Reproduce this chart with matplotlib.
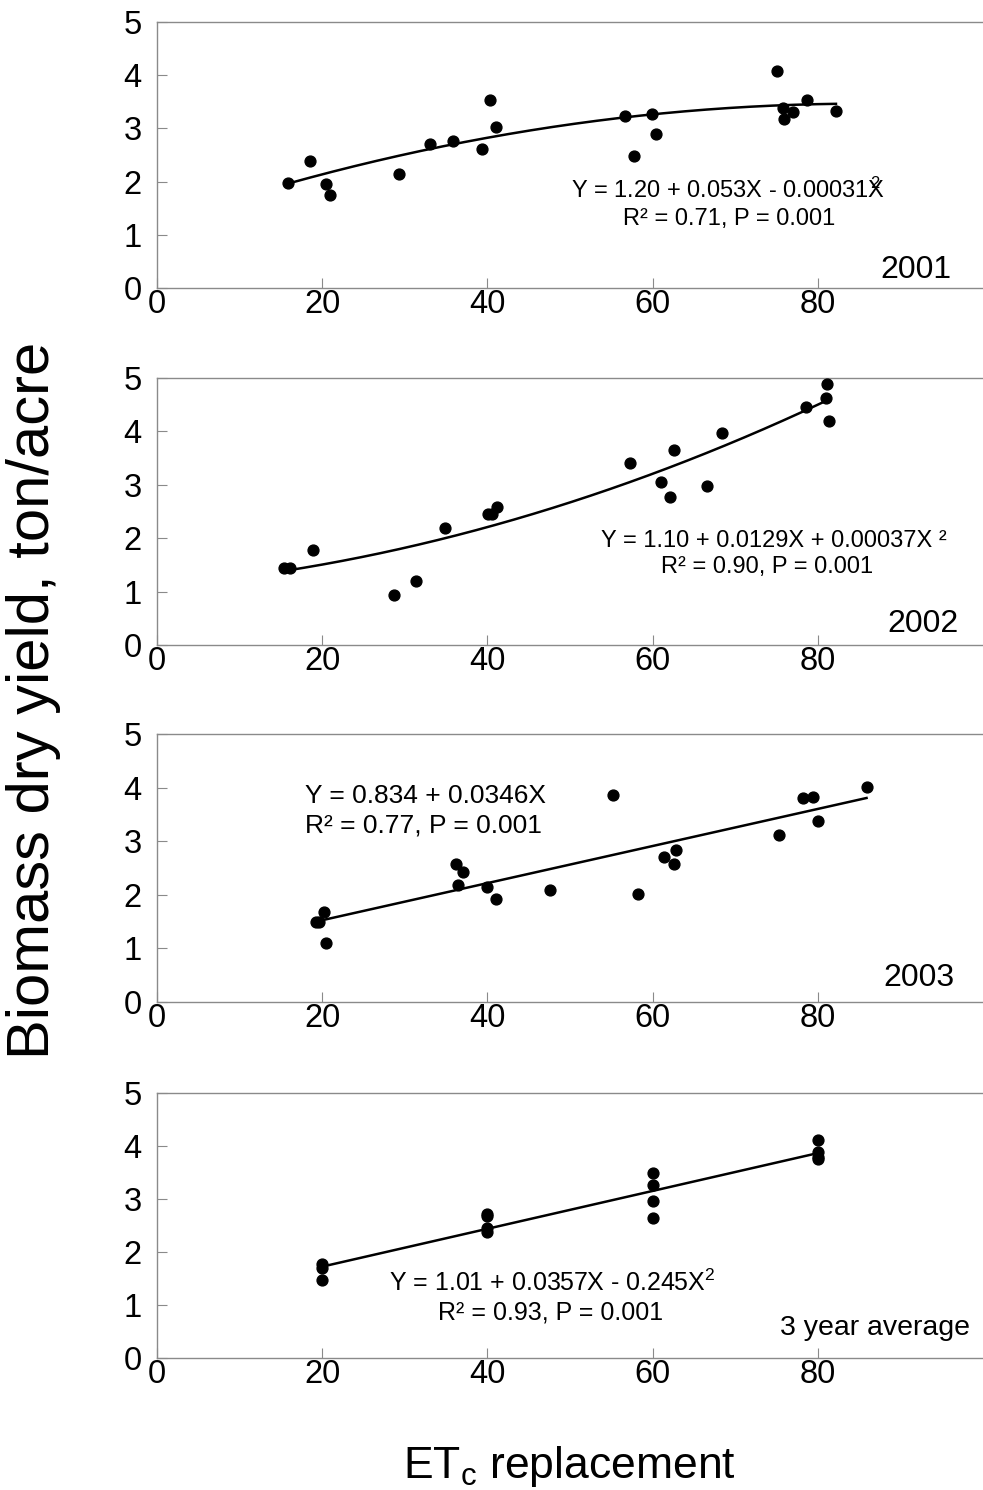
import numpy as np
import matplotlib
matplotlib.use("Agg")
import matplotlib.pyplot as plt

plt.rcParams["font.family"] = ["Liberation Sans", "DejaVu Sans"]
plt.rcParams["mathtext.fontset"] = "custom"
plt.rcParams["mathtext.rm"] = "Liberation Sans"
plt.rcParams["mathtext.it"] = "Liberation Sans:italic"
plt.rcParams["mathtext.bf"] = "Liberation Sans:bold"

# ---- data: ETc replacement (%) vs. biomass dry yield (ton/acre) ----
x_2001 = [15.9, 18.5, 20.4, 20.9, 29.3, 33.1, 35.8, 39.4, 40.3, 41.1,
          56.6, 57.8, 59.9, 60.4, 75.0, 75.8, 75.9, 77.0, 78.7, 82.2]
y_2001 = [1.97, 2.38, 1.96, 1.74, 2.14, 2.71, 2.76, 2.61, 3.53, 3.03,
          3.23, 2.48, 3.28, 2.90, 4.08, 3.38, 3.18, 3.30, 3.53, 3.33]

x_2002 = [15.4, 16.1, 18.9, 28.7, 31.3, 34.9, 40.1, 40.5, 41.2, 57.3,
          61.0, 62.1, 62.6, 66.6, 68.4, 78.6, 81.0, 81.1, 81.4]
y_2002 = [1.45, 1.44, 1.78, 0.93, 1.19, 2.20, 2.45, 2.45, 2.58, 3.40,
          3.06, 2.78, 3.66, 2.98, 3.97, 4.46, 4.62, 4.89, 4.20]

x_2003 = [19.3, 19.6, 20.2, 20.4, 36.2, 37.0, 36.5, 40.0, 41.0, 47.6,
          55.2, 58.2, 61.4, 62.6, 62.8, 75.3, 78.2, 79.4, 80.0, 85.9]
y_2003 = [1.49, 1.49, 1.68, 1.10, 2.57, 2.43, 2.19, 2.14, 1.93, 2.09,
          3.87, 2.02, 2.70, 2.57, 2.83, 3.12, 3.81, 3.82, 3.37, 4.02]

x_avg = [20, 20, 20, 40, 40, 40, 40, 60, 60, 60, 60, 80, 80, 80, 80]
y_avg = [1.78, 1.70, 1.48, 2.72, 2.67, 2.46, 2.38,
         3.50, 3.26, 2.97, 2.65, 4.12, 3.88, 3.80, 3.75]

# regression coefficients (intercept, linear, quadratic)
coef_2001 = [1.20, 0.053, -0.00031]
coef_2002 = [1.10, 0.0129, 0.00037]
coef_2003 = [0.834, 0.0346, 0.0]
coef_avg = [1.01, 0.0357, 0.0]

x_ticks = [0, 20, 40, 60, 80]
y_ticks = [0, 1, 2, 3, 4, 5]

panel_labels = ["2001", "2002", "2003", "3 year average"]
eq_line1 = [
    r"Y = 1.20 + 0.053X - 0.00031X$^{\!\!\!\!\!\!\mathregular{2}}$",
    "Y = 1.10 + 0.0129X + 0.00037X \u00b2",
    "Y = 0.834 + 0.0346X",
    r"Y = 1.01 + 0.0357X - 0.245X$^{\mathregular{2}}$",
]
eq_line2 = [
    "R\u00b2 = 0.71, P = 0.001",
    "R\u00b2 = 0.90, P = 0.001",
    "R\u00b2 = 0.77, P = 0.001",
    "R\u00b2 = 0.93, P = 0.001",
]

xs = [x_2001, x_2002, x_2003, x_avg]
ys = [y_2001, y_2002, y_2003, y_avg]
coefs = [coef_2001, coef_2002, coef_2003, coef_avg]

# ---- layout ----
W, H = 983, 1490
fig = plt.figure(figsize=(W / 100, H / 100), dpi=100)

ax_left = 157 / W
ax_width = 1 - ax_left
# (top, bottom) pixel rows of each panel frame
frames = [(22, 288), (378, 645), (734, 1002), (1093, 1358)]

# text placement per panel: (x, y, ha) for eq lines, panel label
eq1_pos = [(69.1, 1.70, "center"), (74.7, 1.84, "center"),
           (17.9, 3.71, "left"), (47.8, 1.27, "center")]
eq2_pos = [(69.3, 1.19, "center"), (73.8, 1.34, "center"),
           (17.9, 3.17, "left"), (47.6, 0.73, "center")]
eq_size = [17, 17, 19, 18]
lab_pos = [(96.2, 0.18), (97.0, 0.25), (96.6, 0.29), (98.4, 0.44)]
lab_size = [23, 23, 23, 20.5]

frame_color = "#8a8a8a"

for i in range(4):
    top, bot = frames[i]
    ax = fig.add_axes([ax_left, 1 - bot / H, ax_width, (bot - top) / H])
    ax.set_xlim(0, 100)
    ax.set_ylim(0, 5)

    for side in ("left", "top", "bottom"):
        ax.spines[side].set_color(frame_color)
        ax.spines[side].set_linewidth(1.0)
    ax.spines["right"].set_visible(False)

    ax.set_xticks(x_ticks)
    ax.set_yticks(y_ticks)
    ax.tick_params(axis="both", direction="in", length=7, width=0.8,
                   color=frame_color, labelsize=23.5, labelcolor="black")
    ax.tick_params(axis="x", pad=1)
    ax.tick_params(axis="y", pad=11)

    x = np.asarray(xs[i], dtype=float)
    y = np.asarray(ys[i], dtype=float)
    ax.plot(x, y, "o", color="black", markersize=7.8, zorder=3,
            clip_on=False)

    c0, c1, c2 = coefs[i]
    xf = np.linspace(x.min(), x.max(), 200)
    ax.plot(xf, c0 + c1 * xf + c2 * xf ** 2, color="black", lw=1.8,
            zorder=2)

    ex, ey, eha = eq1_pos[i]
    ax.text(ex, ey, eq_line1[i], fontsize=eq_size[i], ha=eha, va="baseline")
    ex, ey, eha = eq2_pos[i]
    ax.text(ex, ey, eq_line2[i], fontsize=eq_size[i], ha=eha, va="baseline")

    lx, ly = lab_pos[i]
    ax.text(lx, ly, panel_labels[i], fontsize=lab_size[i], ha="right",
            va="baseline")

fig.text(34 / W, 1 - 700 / H, "Biomass dry yield, ton/acre", rotation=90,
         fontsize=43, ha="center", va="center")
fig.text(569 / W, 1 - 1478 / H, r"ET$_{\mathregular{c}}$ replacement",
         fontsize=32, ha="center", va="baseline")

fig.savefig("out.png", dpi=100)
